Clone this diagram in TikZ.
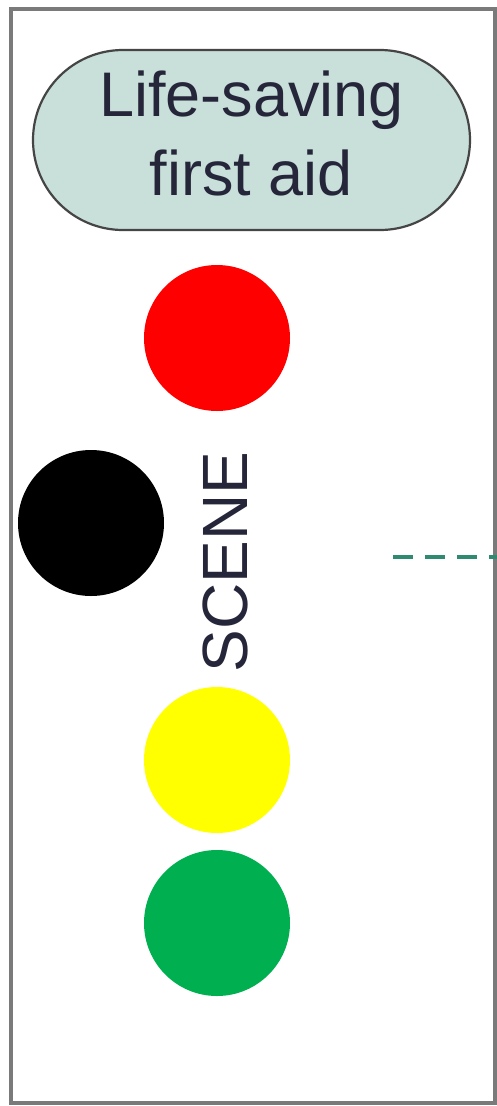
\documentclass[tikz,border=0pt]{standalone}
\usepackage{fontspec}
\setmainfont{Liberation Sans}
\usetikzlibrary{shapes.misc}
\definecolor{pillfill}{HTML}{C9DFDA}
\definecolor{pilldraw}{HTML}{454545}
\definecolor{txt}{HTML}{26263A}
\definecolor{frame}{HTML}{7A7A7A}
\definecolor{dotred}{HTML}{FF0000}
\definecolor{dotyellow}{HTML}{FFFF00}
\definecolor{dotgreen}{HTML}{00B050}
\definecolor{dashcol}{HTML}{2E8B72}
\tikzset{
  pill/.style={draw=pilldraw, line width=2.2pt, fill=pillfill, rounded rectangle,
    minimum width=437pt, minimum height=180pt, inner sep=0pt},
  titletxt/.style={align=center, text=txt, inner sep=0pt,
    font=\fontsize{63}{79}\selectfont},
  dot/.style={circle, minimum size=146pt, inner sep=0pt},
  vlabel/.style={rotate=90, text=txt, font=\fontsize{64}{64}\selectfont, inner sep=0pt},
  link/.style={draw=dashcol, line width=3.4pt, dash pattern=on 20pt off 12pt}
}
\begin{document}
\begin{tikzpicture}[x=1pt,y=-1pt]
\useasboundingbox (0,0) rectangle (497,1106);
\fill[white] (0,0) rectangle (497,1106);
\draw[frame, line width=3.4pt] (11,9) rectangle (495,1103);
\node[pill] (title) at (251.5,140) {};
\node[titletxt] (titletext) at (251.5,133) {Life-saving\\first aid};
\node[dot, fill=dotred] (red) at (217,338) {};
\node[dot, fill=black] (black) at (91,523) {};
\node[dot, fill=dotyellow] (yellow) at (217,760) {};
\node[dot, fill=dotgreen] (green) at (217,923) {};
\node[vlabel] (scene) at (225,562) {SCENE};
\coordinate (dashA) at (393,557);
\coordinate (dashB) at (497,557);
\draw[link] (dashA) -- (dashB);
\end{tikzpicture}
\end{document}
